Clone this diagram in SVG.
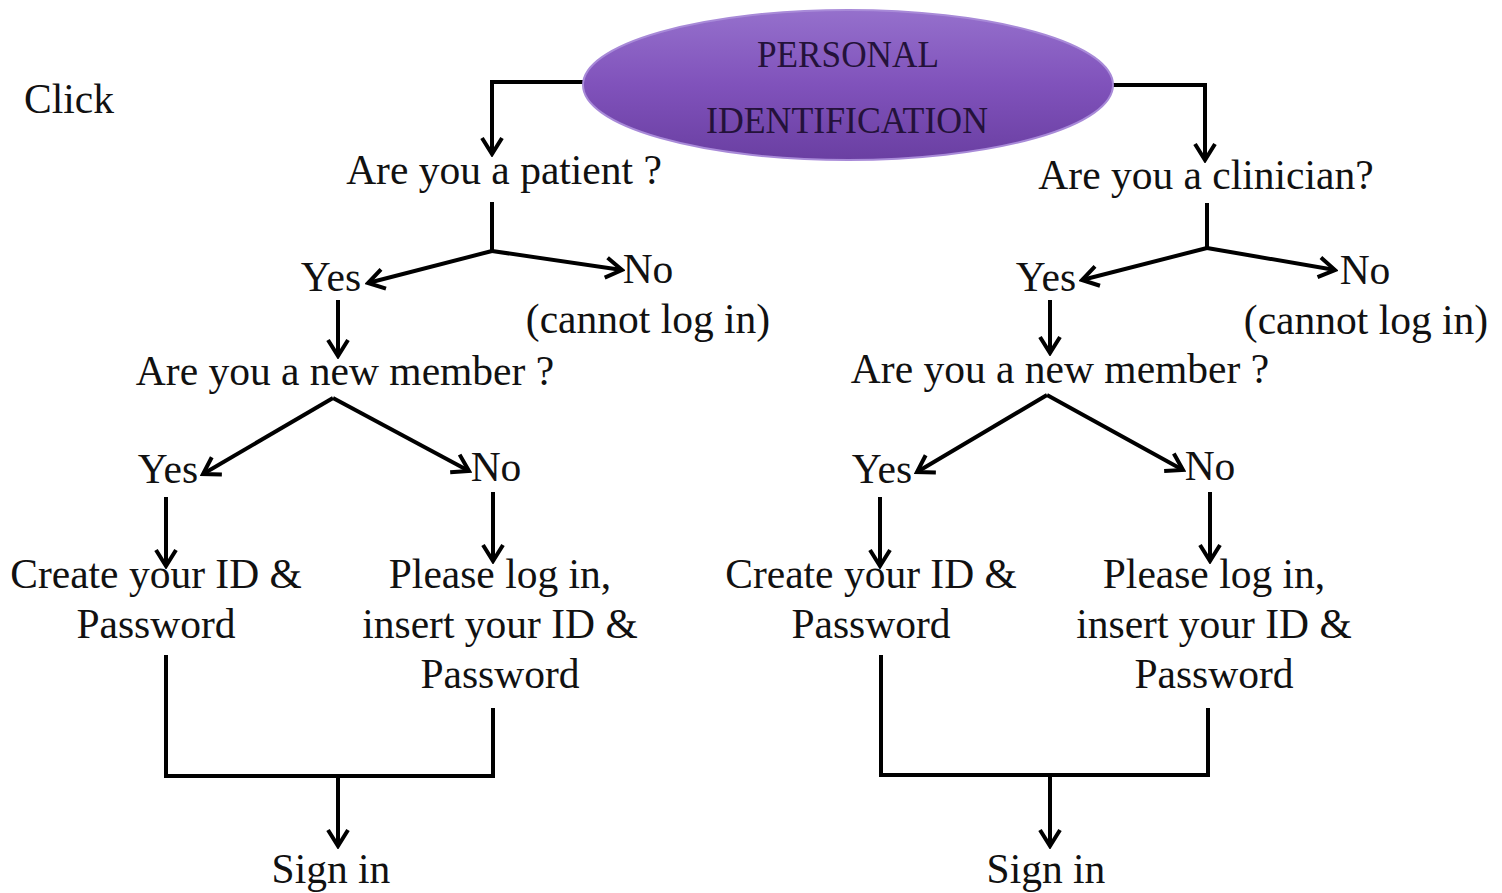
<svg xmlns="http://www.w3.org/2000/svg" width="1502" height="893" viewBox="0 0 1502 893">
<defs>
<linearGradient id="pg" x1="0" y1="0" x2="0" y2="1">
<stop offset="0" stop-color="#9570cc"/>
<stop offset="0.5" stop-color="#8052bb"/>
<stop offset="1" stop-color="#6a3fa2"/>
</linearGradient>
<marker id="ah" viewBox="0 0 24 24" refX="21" refY="12" markerWidth="24" markerHeight="24" markerUnits="userSpaceOnUse" orient="auto">
<path d="M5,2 L21,12 L5,22" fill="none" stroke="#000" stroke-width="4" stroke-linejoin="miter"/>
</marker>
<style>
.t{font-family:"Liberation Serif","Times New Roman",serif;font-size:41.5px;fill:#111;}
.m{text-anchor:middle;}
.e{font-family:"Liberation Serif","Times New Roman",serif;font-size:38px;fill:#24123a;text-anchor:middle;}
.c{fill:none;stroke:#000;stroke-width:4;}
.a{marker-end:url(#ah);}
</style>
</defs>
<rect width="1502" height="893" fill="#fff"/>
<g id="connectors">
<polyline class="c a" points="584,82 492,82 492,154"/>
<polyline class="c a" points="1112,85 1205,85 1205,160"/>
<line class="c" x1="492" y1="202" x2="492" y2="251"/>
<line class="c a" x1="492" y1="251" x2="368" y2="283"/>
<line class="c a" x1="492" y1="251" x2="622" y2="270"/>
<line class="c" x1="1207" y1="203" x2="1207" y2="248"/>
<line class="c a" x1="1207" y1="248" x2="1082" y2="280"/>
<line class="c a" x1="1207" y1="248" x2="1335" y2="270"/>
<line class="c a" x1="338" y1="300" x2="338" y2="356"/>
<line class="c a" x1="1050" y1="300" x2="1050" y2="353"/>
<line class="c a" x1="333" y1="398" x2="203" y2="474"/>
<line class="c a" x1="333" y1="398" x2="469" y2="471"/>
<line class="c a" x1="1047" y1="395" x2="917" y2="472"/>
<line class="c a" x1="1047" y1="395" x2="1183" y2="470"/>
<line class="c a" x1="166" y1="497" x2="166" y2="566"/>
<line class="c a" x1="493" y1="492" x2="493" y2="561"/>
<line class="c a" x1="880" y1="497" x2="880" y2="566"/>
<line class="c a" x1="1210" y1="492" x2="1210" y2="561"/>
<polyline class="c" points="166,655 166,776 493,776 493,708"/>
<line class="c a" x1="338" y1="776" x2="338" y2="846"/>
<polyline class="c" points="881,655 881,775 1208,775 1208,708"/>
<line class="c a" x1="1050" y1="775" x2="1050" y2="846"/>
</g>
<g id="personal-identification">
<ellipse cx="848" cy="85" rx="265" ry="75" fill="url(#pg)" stroke="#a88ad8" stroke-width="2"/>
<text class="e" x="848" y="67" textLength="182" lengthAdjust="spacingAndGlyphs">PERSONAL</text>
<text class="e" x="847" y="133" textLength="282" lengthAdjust="spacingAndGlyphs">IDENTIFICATION</text>
</g>
<g id="click"><text class="t" x="24" y="113">Click</text></g>
<g id="patient-q"><text class="t m" x="504" y="184">Are you a patient ?</text></g>
<g id="clinician-q"><text class="t m" x="1206" y="189">Are you a clinician?</text></g>
<g id="p-yes"><text class="t m" x="331" y="291">Yes</text></g>
<g id="p-no"><text class="t m" x="648" y="283">No</text><text class="t m" x="648" y="333">(cannot log in)</text></g>
<g id="c-yes"><text class="t m" x="1046" y="291">Yes</text></g>
<g id="c-no"><text class="t m" x="1365" y="284">No</text><text class="t m" x="1366" y="334">(cannot log in)</text></g>
<g id="p-new"><text class="t m" x="345" y="385">Are you a new member ?</text></g>
<g id="c-new"><text class="t m" x="1060" y="383">Are you a new member ?</text></g>
<g id="p-new-yes"><text class="t m" x="168" y="483">Yes</text></g>
<g id="p-new-no"><text class="t m" x="496" y="481">No</text></g>
<g id="c-new-yes"><text class="t m" x="882" y="483">Yes</text></g>
<g id="c-new-no"><text class="t m" x="1210" y="480">No</text></g>
<g id="p-create"><text class="t m" x="156" y="588">Create your ID &amp;</text><text class="t m" x="156" y="638">Password</text></g>
<g id="p-login"><text class="t m" x="500" y="588">Please log in,</text><text class="t m" x="500" y="638">insert your ID &amp;</text><text class="t m" x="500" y="688">Password</text></g>
<g id="c-create"><text class="t m" x="871" y="588">Create your ID &amp;</text><text class="t m" x="871" y="638">Password</text></g>
<g id="c-login"><text class="t m" x="1214" y="588">Please log in,</text><text class="t m" x="1214" y="638">insert your ID &amp;</text><text class="t m" x="1214" y="688">Password</text></g>
<g id="p-sign"><text class="t m" x="331" y="883">Sign  in</text></g>
<g id="c-sign"><text class="t m" x="1046" y="883">Sign  in</text></g>
</svg>
